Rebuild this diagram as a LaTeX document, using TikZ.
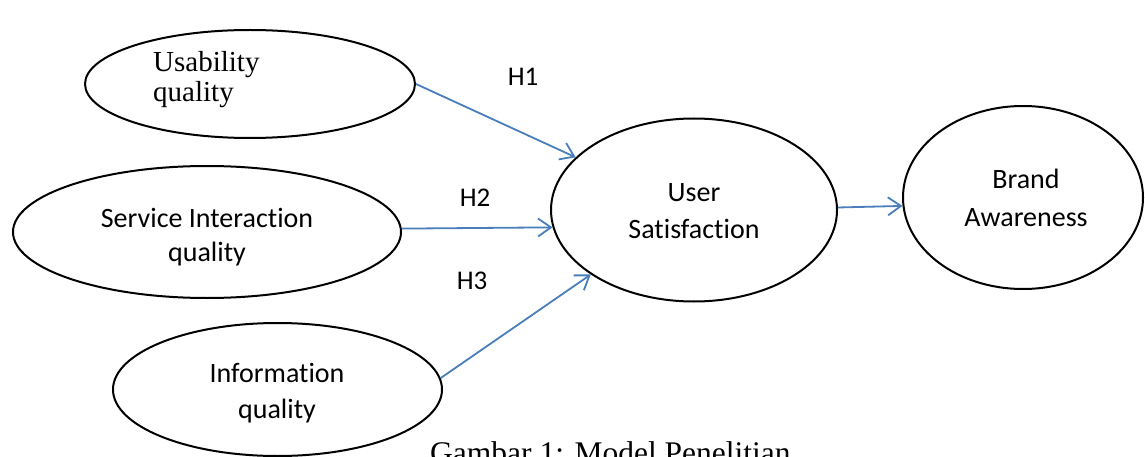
\documentclass[tikz,border=0pt]{standalone}
\usepackage{fontspec}
\setmainfont{Liberation Serif}
\newfontfamily\calib[Ligatures=NoCommon]{Carlito}
\usetikzlibrary{shapes.geometric,arrows.meta}
\definecolor{linkblue}{HTML}{4A7EBB}
\tikzset{
  oval/.style={ellipse, draw=black, line width=2pt, inner sep=0pt},
  sanstext/.style={font=\calib\fontsize{28pt}{34pt}\selectfont, inner sep=0pt, anchor=base},
  hyp/.style={font=\calib\fontsize{27pt}{32pt}\selectfont, inner sep=0pt},
  serif/.style={font=\fontsize{29pt}{34pt}\selectfont, inner sep=0pt, anchor=base west},
  link/.style={draw=linkblue, line width=1.8pt, -{Straight Barb[length=13pt,width=18pt,line width=1.8pt]}}
}
\begin{document}
\begin{tikzpicture}[x=1pt,y=-1pt]
\useasboundingbox (0,0) rectangle (1145,457);
% ellipses
\node[oval, minimum width=330pt, minimum height=108pt] (u) at (250,84) {};
\node[oval, minimum width=388pt, minimum height=132pt] (sv) at (207,232) {};
\node[oval, minimum width=329pt, minimum height=133pt] (inf) at (277.5,389.5) {};
\node[oval, minimum width=286pt, minimum height=183pt] (s) at (694,210) {};
\node[oval, minimum width=240pt, minimum height=183pt] (b) at (1023,197.5) {};
% texts
\node[serif] (ut1) at (153,72) {Usability};
\node[serif] (ut2) at (153,102) {quality};
\node[sanstext] (st1) at (207,227) {Service Interaction};
\node[sanstext] (st2) at (207,261) {quality};
\node[sanstext] (it1) at (277,382) {Information};
\node[sanstext] (it2) at (277,418) {quality};
\node[sanstext] (ss1) at (694,201) {User};
\node[sanstext] (ss2) at (694,238) {Satisfaction};
\node[sanstext] (bt1) at (1026,189) {Brand};
\node[sanstext] (bt2) at (1026,226) {Awareness};
% hypothesis labels
\node[hyp] (h1) at (523,77) {H1};
\node[hyp] (h2) at (475,198) {H2};
\node[hyp] (h3) at (472,281) {H3};
% connectors
\draw[link] (u.east) -- (s.156.6);
\draw[link] (sv.1.2) -- (s.187.1);
\draw[link] (inf.4.4) -- (s.212.3);
\draw[link] (s.1.3) -- (b.184.5);
% caption
\node[font=\fontsize{31.5pt}{36pt}\selectfont, inner sep=0pt, anchor=base west] (cap) at (430,463) {Gambar 1: Model Penelitian};
\end{tikzpicture}
\end{document}
